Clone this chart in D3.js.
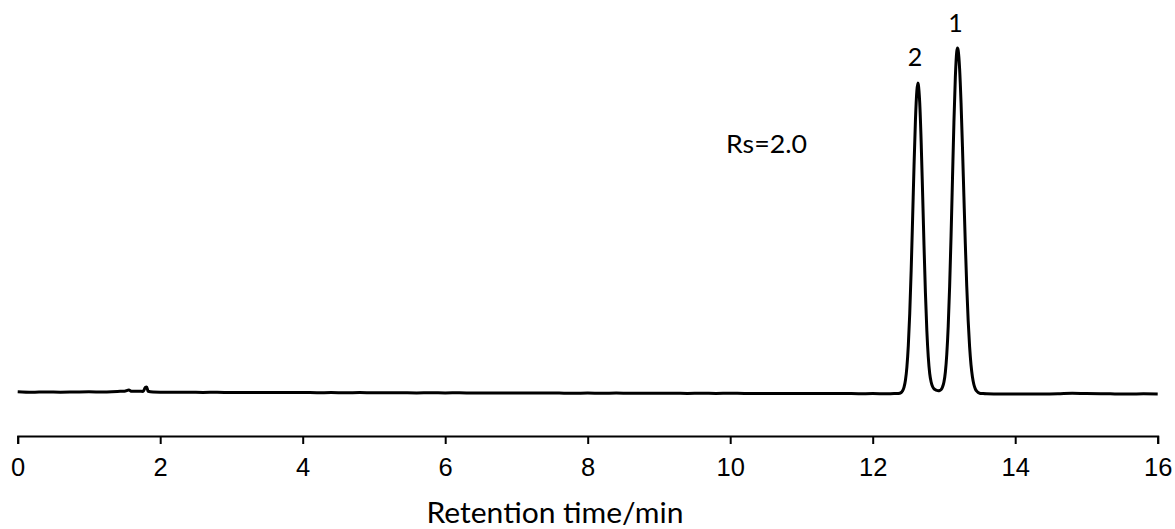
<!DOCTYPE html>
<html>
<head>
<meta charset="utf-8">
<script src="https://cdn.jsdelivr.net/npm/d3@7"></script>
<style>
  html, body { margin: 0; padding: 0; background: #fff; }
  svg { display: block; }
</style>
</head>
<body>
<svg id="chart" width="1175" height="529"></svg>
<script>
// ---- Data ----
const xTicks = [0, 2, 4, 6, 8, 10, 12, 14, 16];
const xLabel = "Retention time/min";
const rsLabel = "Rs=2.0";

// retention time (min)
const times = [
  0.0, 0.2, 0.4, 0.6, 0.8, 1.0, 1.2, 1.4, 1.5, 1.56, 1.6, 1.7, 1.76, 1.79, 1.81, 1.83, 1.9,
  2.0, 2.2, 2.4, 2.6, 2.8, 3.0, 3.2, 3.4, 3.6, 3.8, 4.0, 4.2, 4.4, 4.6, 4.8,
  5.0, 5.2, 5.4, 5.6, 5.8, 6.0, 6.2, 6.4, 6.6, 6.8, 7.0, 7.2, 7.4, 7.6, 7.8,
  8.0, 8.2, 8.4, 8.6, 8.8, 9.0, 9.2, 9.4, 9.6, 9.8, 10.0, 10.2, 10.4, 10.6, 10.8,
  11.0, 11.2, 11.4, 11.6, 11.8, 12.0, 12.2, 12.3,
  12.34, 12.38, 12.40, 12.42, 12.44, 12.46, 12.48, 12.50, 12.52, 12.54, 12.56, 12.58,
  12.60, 12.62, 12.635, 12.64, 12.66, 12.68, 12.70, 12.72, 12.74, 12.76, 12.78,
  12.80, 12.82, 12.84, 12.86, 12.88, 12.90, 12.92, 12.94, 12.96, 12.98,
  13.00, 13.02, 13.04, 13.06, 13.08, 13.10, 13.12, 13.14, 13.16, 13.18, 13.19,
  13.20, 13.22, 13.24, 13.26, 13.28, 13.30, 13.32, 13.34, 13.36, 13.38,
  13.40, 13.42, 13.44, 13.46, 13.48, 13.50, 13.55, 13.60,
  13.8, 14.0, 14.2, 14.4, 14.6, 14.8, 15.0, 15.2, 15.4, 15.6, 15.8, 16.0
];
// detector signal (mAU, arbitrary)
const signal = [
  0.02, -0.03, 0.01, -0.02, 0.00, 0.02, 0.00, 0.06, 0.08, 0.20, 0.07, 0.08, 0.06, 0.45, 0.50, 0.08, 0.00,
  -0.02, -0.03, -0.02, -0.04, -0.03, -0.05, -0.04, -0.06, -0.05, -0.06, -0.05, -0.07, -0.06, -0.07, -0.06,
  -0.08, -0.07, -0.08, -0.09, -0.08, -0.09, -0.08, -0.10, -0.09, -0.10, -0.09, -0.11, -0.10, -0.11, -0.12,
  -0.11, -0.12, -0.11, -0.13, -0.12, -0.13, -0.12, -0.14, -0.13, -0.14, -0.12, -0.15, -0.14, -0.15, -0.14,
  -0.16, -0.15, -0.16, -0.15, -0.17, -0.16, -0.17, -0.16,
  -0.16, -0.12, -0.05, 0.12, 0.48, 1.20, 2.50, 4.67, 7.88, 12.18, 17.30, 22.60,
  27.20, 30.13, 30.90, 30.76, 28.92, 25.05, 19.99, 14.67, 9.91, 6.13, 3.50,
  1.85, 1.00, 0.55, 0.33, 0.22, 0.16, 0.13, 0.15, 0.24, 0.50,
  1.00, 2.00, 3.80, 6.60, 10.60, 15.65, 21.37, 26.97, 31.50, 34.05, 34.40,
  34.15, 32.30, 28.90, 24.45, 19.57, 14.80, 10.57, 7.13, 4.53, 2.70,
  1.50, 0.75, 0.32, 0.08, -0.05, -0.12, -0.16, -0.18,
  -0.20, -0.19, -0.20, -0.19, -0.17, -0.12, -0.16, -0.18, -0.19, -0.20, -0.18, -0.20
];

const peakLabels = ["1", "2"];
const peakTimes = [13.19, 12.635];
const peakHeights = [34.40, 30.90];

// ---- Layout ----
const svg = d3.select("#chart");
const axisY = 436;
const x = d3.scaleLinear().domain([0, 16]).range([17.7, 1157.7]);
const y = d3.scaleLinear().domain([-4.4, 39.2]).range([axisY, 0]);

const data = times.map((t, i) => ({ t, v: signal[i] }));

// trace
const line = d3.line().x(d => x(d.t)).y(d => y(d.v)).curve(d3.curveMonotoneX);
svg.append("path")
  .datum(data)
  .attr("fill", "none")
  .attr("stroke", "#000")
  .attr("stroke-width", 3)
  .attr("stroke-linejoin", "round")
  .attr("d", line);

// x axis
const xAxis = d3.axisBottom(x).tickValues(xTicks).tickFormat(d3.format("d"))
  .tickSizeOuter(0).tickSize(8).tickPadding(14);
const gx = svg.append("g").attr("transform", `translate(0,${axisY})`).call(xAxis);
gx.select(".domain").attr("stroke", "#000").attr("stroke-width", 2);
gx.selectAll(".tick line").attr("stroke", "#000").attr("stroke-width", 2);
gx.selectAll(".tick text")
  .attr("fill", "#000")
  .style("font-family", "'Liberation Sans', Arial, sans-serif")
  .style("font-size", "25.5px");

// axis title
svg.append("text")
  .attr("x", 555)
  .attr("y", 523)
  .attr("text-anchor", "middle")
  .attr("textLength", 257)
  .attr("lengthAdjust", "spacingAndGlyphs")
  .style("font-family", "Lato, 'Open Sans', sans-serif")
  .style("font-size", "28px")
  .attr("fill", "#000")
  .text(xLabel);

// peak labels
svg.selectAll(".plabel")
  .data(peakLabels)
  .enter().append("text")
  .attr("class", "plabel")
  .attr("x", (d, i) => x(peakTimes[i]) - (i === 1 ? 3 : 2))
  .attr("y", (d, i) => y(peakHeights[i]) - (i === 1 ? 17 : 16))
  .attr("text-anchor", "middle")
  .style("font-family", "Lato, 'Open Sans', sans-serif")
  .style("font-size", "25px")
  .attr("fill", "#000")
  .text(d => d);

// resolution label
svg.append("text")
  .attr("x", 726)
  .attr("y", 153)
  .attr("textLength", 81)
  .attr("lengthAdjust", "spacingAndGlyphs")
  .style("font-family", "Lato, 'Open Sans', sans-serif")
  .style("font-size", "25px")
  .attr("fill", "#000")
  .text(rsLabel);
</script>
</body>
</html>
